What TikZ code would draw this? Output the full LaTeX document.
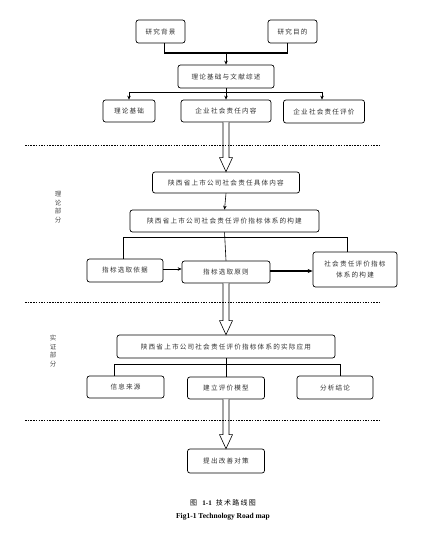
\documentclass[tikz,border=0pt]{standalone}
\usepackage{fontspec}
\setmainfont{Liberation Serif}
\newfontfamily\cjk[LetterSpace=18]{Noto Sans CJK SC}
\newfontfamily\cjkplain{Noto Sans CJK SC}
\usetikzlibrary{calc,arrows.meta}
\tikzset{
  box/.style={draw, rounded corners=2.5pt, line width=0.7pt, inner sep=0pt, align=center,
    font=\cjk\fontsize{6.6}{11}\selectfont, text=black!80},
  link/.style={line width=0.6pt},
  arr/.style={line width=0.6pt, -{Stealth[length=4pt,width=3.5pt]}},
  sep/.style={line width=0.5pt, dash pattern=on 1.5pt off 1.2pt},
  hollow/.style={line width=0.6pt, fill=white},
  side/.style={font=\cjkplain\fontsize{6.5}{8.5}\selectfont, align=center, text=black!70},
}
\newcommand{\hollowarrow}[2]{%
  \draw[hollow] ($(#1.south)+(-3,0)$) -- ($(#1.south |- #2.north)+(-3,-14)$)
    -- ($(#1.south |- #2.north)+(-6.5,-14)$) -- (#1.south |- #2.north)
    -- ($(#1.south |- #2.north)+(6.5,-14)$) -- ($(#1.south |- #2.north)+(3,-14)$)
    -- ($(#1.south)+(3,0)$);}
\begin{document}
\begin{tikzpicture}[x=1pt,y=-1pt]
\useasboundingbox[fill=white] (0,0) rectangle (430,534);
% top
\node[box, minimum width=49pt, minimum height=23pt] (bg) at (160.5,31.5) {研究背景};
\node[box, minimum width=49pt, minimum height=23pt] (md) at (292.5,31.5) {研究目的};
\node[box, minimum width=96pt, minimum height=23pt] (lw) at (226,76.5) {理论基础与文献综述};
\node[box, minimum width=52pt, minimum height=22pt] (l1) at (129,111) {理论基础};
\node[box, minimum width=90pt, minimum height=22pt] (l2) at (226,111) {企业社会责任内容};
\node[box, minimum width=81pt, minimum height=23pt] (l3) at (324,111.5) {企业社会责任评价};
% theory part
\node[box, minimum width=147pt, minimum height=21pt] (s1) at (226,182.5) {陕西省上市公司社会责任具体内容};
\node[box, minimum width=189pt, minimum height=22pt] (s2) at (224.5,221) {陕西省上市公司社会责任评价指标体系的构建};
\node[box, minimum width=76pt, minimum height=23pt] (i1) at (125,270.5) {指标选取依据};
\node[box, minimum width=88pt, minimum height=22pt] (i2) at (226,272) {指标选取原则};
\node[box, minimum width=84pt, minimum height=35pt] (i3) at (355,269.5) {社会责任评价指标\\体系的构建};
% empirical part
\node[box, minimum width=218pt, minimum height=23pt] (a0) at (226,346.5) {陕西省上市公司社会责任评价指标体系的实际应用};
\node[box, minimum width=77pt, minimum height=22pt] (a1) at (125.5,387) {信息来源};
\node[box, minimum width=77pt, minimum height=22pt] (a2) at (226,388) {建立评价模型};
\node[box, minimum width=76pt, minimum height=23pt] (a3) at (335,387.5) {分析结论};
\node[box, minimum width=77pt, minimum height=24pt] (f) at (226,461) {提出改善对策};
% side labels
\node[side] (t1) at (58,207) {理\\论\\部\\分};
\node[side] (t2) at (53,351) {实\\证\\部\\分};
% connectors top
\coordinate (jt) at (226,53);
\draw[link, line width=1.3pt] ($(bg.south)+(4,0)$) |- (jt) -| ($(md.south)+(-5,0)$);
\draw[arr] (jt) -- (lw.north);
\draw[arr] ($(lw.south)+(0,4)$) -- (l2.north);
\draw[link] (lw.south) -- ++(0,4);
\draw[arr] ($(lw.south)+(0,4)$) -| (l1.north);
\draw[arr] ($(lw.south)+(0,4)$) -| ($(l3.north)+(-2,0)$);
\draw[arr] (s1.south) -- (s2.north);
\draw[link] (s2.south) -- (i2.north);
\draw[link] ($(s2.south)+(0,5)$) -| ($(i1.north)+(-2,0)$);
\draw[link] ($(s2.south)+(0,5)$) -| ($(i3.north)+(-8,0)$);
\draw[arr] (i1.east |- 0,269) -- (i2.west |- 0,269);
\draw[line width=1.4pt, -{Stealth[length=5pt,width=4pt]}] (i2.east |- 0,271) -- (i3.west |- 0,271);
\draw[link] (a0.south) -- (a2.north);
\draw[link] ($(a0.south)+(0,6)$) -| ($(a1.north)+(-11,0)$);
\draw[link] ($(a0.south)+(0,6)$) -| ($(a3.north)+(5,0)$);
% hollow arrows
\hollowarrow{l2}{s1}
\hollowarrow{i2}{a0}
\hollowarrow{a2}{f}
% separators
\coordinate (d1a) at (25,145); \coordinate (d1b) at (380,145);
\coordinate (d2a) at (25,302); \coordinate (d2b) at (380,302);
\coordinate (d3a) at (25,420); \coordinate (d3b) at (380,420);
\draw[sep] (d1a) -- (d1b);
\draw[sep] (d2a) -- (d2b);
\draw[sep] (d3a) -- (d3b);
% caption
\node[font=\fontsize{7}{8}\selectfont] (c1) at (223,503) {{\cjk 图}\hspace{4pt}\textbf{1-1}\hspace{4pt}{\cjk 技术路线图}};
\node[font=\bfseries\fontsize{7.5}{8}\selectfont] (c2) at (223,517) {Fig1-1 Technology Road map};
\end{tikzpicture}
\end{document}
